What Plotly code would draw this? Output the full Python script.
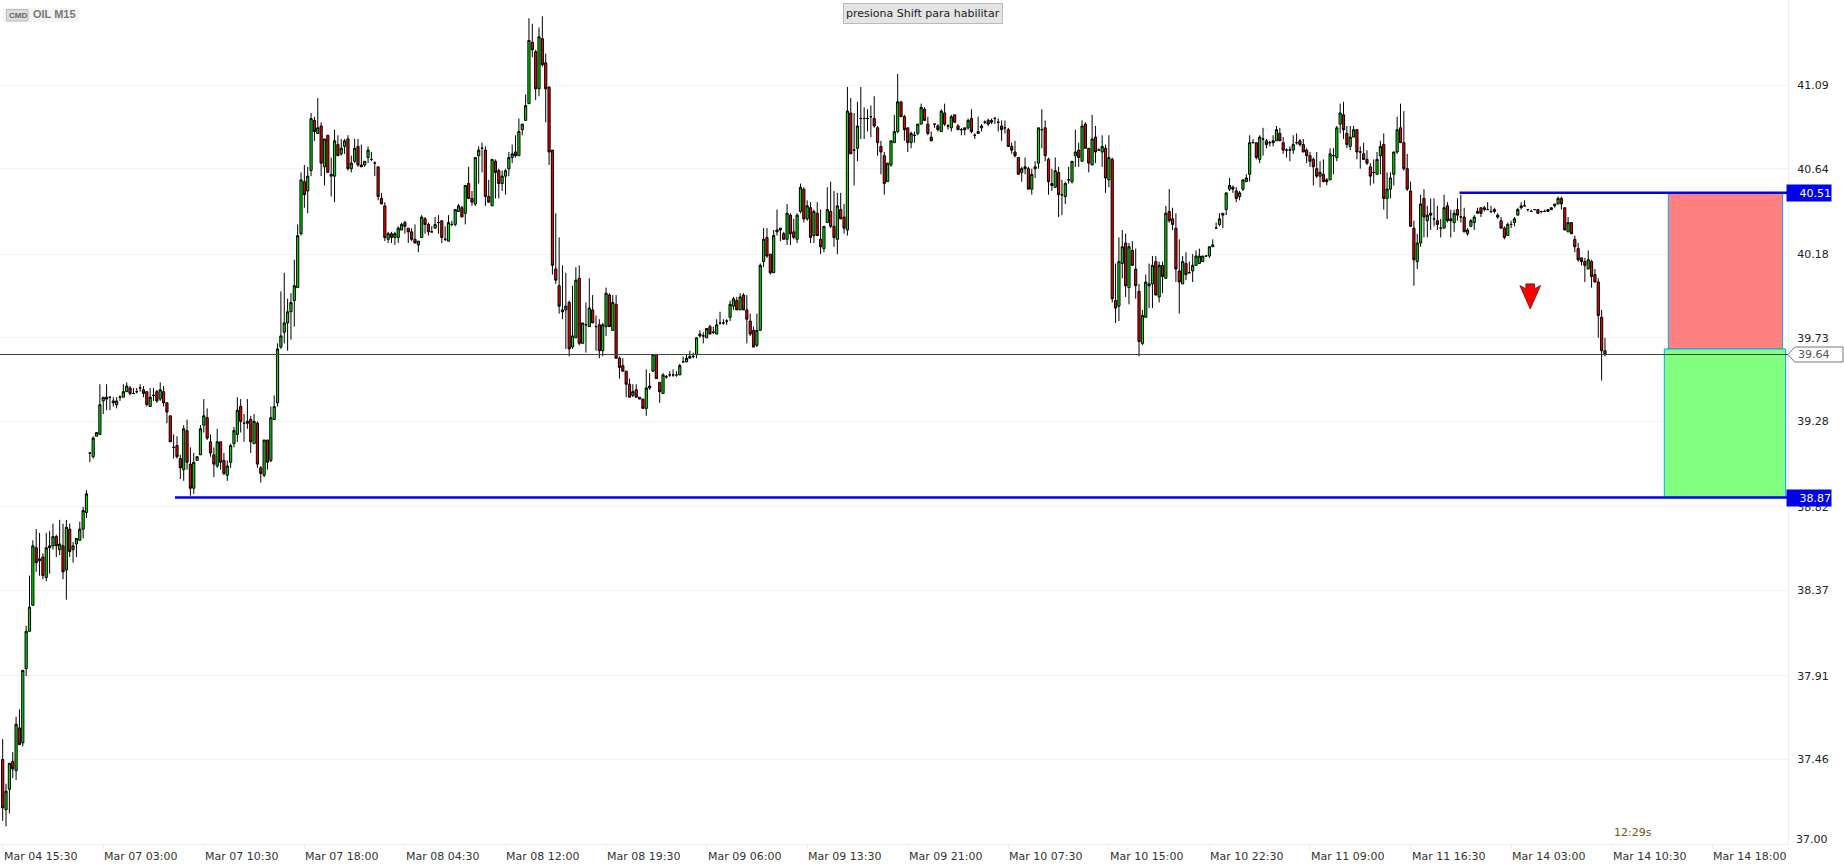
import plotly.graph_objects as go

TITLE = "OIL M15"
BADGE = "CMD"
NOTICE = "presiona Shift para habilitar"
TIMER = "12:29s"
CURRENT_PRICE = 39.64
UPPER_LEVEL = 40.51
LOWER_LEVEL = 38.87
MIDDLE_LEVEL = 39.67
ARROW_PRICE = 40.02
ARROW_INDEX = 455.7
UPPER_LINE_START = 434.6
LOWER_LINE_START = 51.4
RISK_BOX = (496.9, 531.0)
REWARD_BOX = (495.7, 531.9)

Y_TICKS = [37.00, 37.46, 37.91, 38.37, 38.82, 39.28, 39.73, 40.18, 40.64, 41.09]
X_LABELS = ["Mar 04 15:30", "Mar 07 03:00", "Mar 07 10:30", "Mar 07 18:00", "Mar 08 04:30", "Mar 08 12:00",
            "Mar 08 19:30", "Mar 09 06:00", "Mar 09 13:30", "Mar 09 21:00", "Mar 10 07:30", "Mar 10 15:00",
            "Mar 10 22:30", "Mar 11 09:00", "Mar 11 16:30", "Mar 14 03:00", "Mar 14 10:30", "Mar 14 18:00"]
CANDLES_PER_LABEL = 30

directions = ("rggrgrgggg" "rgrgggrgrg" "rggggggggg" "grgrggggrg" "ggrrggrgrr" "rgrrgrrggg" "grrrgrrggg" "grgrrgrrgr"
              "gggggggggg" "rggrgrgrgg" "rggrggrrgg" "ggrrrgrggg" "rrrrggrrgg" "grgggggrgr" "rgggrrgrrg" "gggrggggrr"
              "grrrrrrrgr" "ggrgggrgrg" "grgrrrrrgr" "rrgggrrggg" "gggggggggg" "grgggggggr" "grrrrgggrr" "ggrrgrrggr"
              "grgrrggrrg" "rrgrgggggg" "rrrrggggrr" "rggggrrrgr" "grggrrgggr" "ggggrgggrg" "rrrrggrggg" "grrrgrgggg"
              "grgrrgrggr" "grrggrgrrr" "ggggrgrgrr" "rrgrgggggg" "gggggggrrg" "ggggrggrgg" "grrggggrrr" "rrrgrrgggg"
              "rrggrgrrrg" "ggrggggrrr" "rrggrgrgrg" "grrgrgrggg" "grgggrrrrg" "ggggggggrg" "grgggrrgrr" "rrrgrrrrr")

body_top = [
37.46,37.29,37.44,37.45,37.65,37.63,37.94,38.15,38.28,38.61,
38.60,38.54,38.55,38.60,38.61,38.66,38.66,38.62,38.61,38.71,
38.70,38.61,38.65,38.70,38.80,38.89,39.11,39.19,39.22,39.37,
39.41,39.41,39.41,39.39,39.39,39.41,39.44,39.47,39.46,39.43,
39.44,39.46,39.45,39.44,39.41,39.42,39.44,39.45,39.44,39.38,
39.31,39.14,39.15,39.08,39.24,39.23,39.05,39.06,39.09,39.24,
39.31,39.30,39.17,39.10,39.17,39.17,39.07,39.04,39.15,39.23,
39.34,39.36,39.27,39.28,39.29,39.28,39.27,39.03,39.18,39.18,
39.30,39.36,39.67,39.74,39.81,39.87,39.92,40.01,40.28,40.58,
40.57,40.60,40.91,40.90,40.86,40.87,40.80,40.82,40.61,40.79,
40.77,40.75,40.79,40.80,40.67,40.75,40.76,40.66,40.68,40.74,
40.69,40.67,40.65,40.48,40.44,40.29,40.29,40.29,40.32,40.34,
40.35,40.32,40.30,40.26,40.25,40.38,40.37,40.34,40.30,40.34,
40.35,40.36,40.26,40.35,40.34,40.42,40.44,40.43,40.55,40.56,
40.48,40.70,40.74,40.75,40.74,40.49,40.69,40.68,40.63,40.60,
40.63,40.70,40.72,40.73,40.84,40.88,40.98,41.33,41.32,41.27,
41.35,41.34,41.21,41.08,40.74,40.10,40.01,39.88,39.90,39.92,
39.74,40.04,40.05,39.81,39.80,39.89,39.88,39.79,39.80,39.80,
39.97,39.96,39.92,39.91,39.62,39.58,39.55,39.48,39.44,39.45,
39.41,39.40,39.46,39.47,39.64,39.64,39.49,39.53,39.52,39.53,
39.53,39.53,39.58,39.60,39.62,39.63,39.63,39.73,39.75,39.74,
39.78,39.79,39.76,39.80,39.81,39.81,39.82,39.91,39.94,39.93,
39.95,39.96,39.88,39.82,39.77,39.77,40.12,40.26,40.27,40.18,
40.28,40.31,40.32,40.29,40.40,40.39,40.30,40.39,40.54,40.53,
40.44,40.43,40.41,40.40,40.26,40.33,40.42,40.41,40.33,40.44,
40.42,40.38,40.95,40.94,40.74,40.87,40.91,40.91,40.91,40.92,
40.91,40.86,40.76,40.71,40.67,40.79,40.84,41.00,41.00,40.92,
40.86,40.83,40.82,40.88,40.97,40.96,40.88,40.81,40.88,40.87,
40.95,40.94,40.87,40.92,40.93,40.87,40.85,40.86,40.90,40.91,
40.82,40.84,40.87,40.89,40.90,40.90,40.91,40.89,40.87,40.86,
40.85,40.76,40.73,40.70,40.64,40.65,40.64,40.61,40.65,40.86,
40.85,40.86,40.69,40.56,40.63,40.62,40.50,40.56,40.58,40.68,
40.73,40.74,40.87,40.88,40.75,40.80,40.81,40.74,40.76,40.75,
40.70,40.69,39.93,40.14,40.22,40.24,40.22,40.20,40.10,39.98,
39.85,40.03,40.02,40.12,40.14,40.12,40.12,40.40,40.41,40.37,
40.32,40.09,40.14,40.13,40.08,40.12,40.17,40.17,40.17,40.17,
40.22,40.23,40.32,40.37,40.40,40.51,40.55,40.54,40.52,40.51,
40.58,40.59,40.78,40.78,40.78,40.81,40.80,40.79,40.78,40.79,
40.85,40.83,40.78,40.74,40.74,40.77,40.78,40.79,40.77,40.74,
40.71,40.69,40.64,40.62,40.61,40.58,40.72,40.71,40.86,40.94,
40.93,40.83,40.81,40.85,40.85,40.73,40.72,40.69,40.65,40.62,
40.69,40.76,40.77,40.53,40.59,40.73,40.85,40.86,40.78,40.64,
40.52,40.32,40.24,40.45,40.48,40.39,40.40,40.37,40.36,40.32,
40.43,40.44,40.37,40.40,40.42,40.38,40.38,40.31,40.36,40.38,
40.41,40.43,40.43,40.42,40.41,40.42,40.39,40.36,40.32,40.34,
40.34,40.37,40.42,40.44,40.44,40.42,40.41,40.42,40.42,40.41,
40.41,40.42,40.43,40.45,40.48,40.48,40.43,40.35,40.35,40.26,
40.21,40.16,40.14,40.15,40.14,40.07,40.03,39.84,39.66]

body_bottom = [
37.20,37.19,37.30,37.41,37.40,37.54,37.55,37.95,38.15,38.29,
38.52,38.53,38.45,38.44,38.60,38.61,38.61,38.59,38.47,38.48,
38.58,38.59,38.62,38.64,38.70,38.79,39.11,39.09,39.20,39.21,
39.39,39.40,39.41,39.38,39.37,39.41,39.41,39.44,39.43,39.43,
39.44,39.46,39.43,39.37,39.36,39.42,39.39,39.40,39.38,39.33,
39.17,39.14,39.09,39.03,39.02,39.06,38.92,38.92,39.07,39.10,
39.26,39.19,39.11,39.05,39.04,39.06,39.00,38.99,39.06,39.16,
39.21,39.28,39.27,39.27,39.17,39.16,39.05,39.00,38.99,39.06,
39.07,39.29,39.38,39.68,39.76,39.81,39.87,39.93,40.00,40.29,
40.50,40.52,40.63,40.84,40.83,40.67,40.65,40.62,40.60,40.60,
40.71,40.72,40.76,40.64,40.64,40.68,40.66,40.65,40.66,40.70,
40.69,40.67,40.49,40.45,40.27,40.26,40.27,40.27,40.27,40.31,
40.33,40.30,40.26,40.24,40.23,40.27,40.34,40.30,40.30,40.32,
40.35,40.27,40.26,40.25,40.34,40.34,40.41,40.38,40.40,40.48,
40.46,40.45,40.71,40.75,40.49,40.46,40.44,40.62,40.56,40.56,
40.60,40.64,40.70,40.71,40.71,40.85,40.90,40.99,41.28,41.07,
41.07,41.20,41.07,40.73,40.12,40.04,39.90,39.87,39.88,39.67,
39.68,39.73,39.70,39.70,39.80,39.79,39.81,39.79,39.66,39.66,
39.79,39.79,39.77,39.62,39.57,39.55,39.48,39.41,39.42,39.41,
39.40,39.35,39.35,39.46,39.55,39.51,39.44,39.43,39.52,39.53,
39.53,39.53,39.53,39.60,39.60,39.62,39.63,39.64,39.74,39.74,
39.73,39.75,39.76,39.75,39.81,39.81,39.82,39.84,39.90,39.88,
39.88,39.88,39.83,39.75,39.68,39.69,39.77,40.14,40.17,40.08,
40.08,40.30,40.31,40.26,40.26,40.29,40.27,40.26,40.41,40.37,
40.37,40.27,40.28,40.28,40.22,40.21,40.35,40.33,40.27,40.26,
40.37,40.32,40.31,40.72,40.74,40.75,40.91,40.91,40.91,40.92,
40.87,40.78,40.73,40.56,40.57,40.66,40.78,40.84,40.92,40.85,
40.78,40.78,40.82,40.83,40.88,40.90,40.83,40.79,40.88,40.85,
40.84,40.88,40.87,40.86,40.89,40.85,40.85,40.85,40.86,40.84,
40.82,40.83,40.86,40.89,40.88,40.89,40.91,40.89,40.85,40.86,
40.76,40.74,40.71,40.61,40.62,40.64,40.53,40.53,40.64,40.67,
40.85,40.71,40.57,40.55,40.54,40.50,40.50,40.49,40.58,40.57,
40.71,40.70,40.68,40.75,40.67,40.66,40.73,40.74,40.73,40.59,
40.58,39.94,39.89,39.90,40.13,40.01,40.00,40.12,40.01,39.71,
39.70,39.84,40.01,40.02,39.96,39.95,40.06,40.05,40.36,40.34,
40.10,40.03,40.02,40.07,40.08,40.09,40.12,40.13,40.14,40.17,
40.17,40.22,40.32,40.34,40.39,40.42,40.53,40.53,40.48,40.49,
40.53,40.57,40.61,40.78,40.70,40.69,40.80,40.77,40.78,40.78,
40.79,40.79,40.74,40.74,40.74,40.74,40.78,40.77,40.73,40.71,
40.68,40.65,40.60,40.60,40.57,40.57,40.58,40.71,40.70,40.88,
40.85,40.77,40.76,40.81,40.73,40.73,40.69,40.67,40.60,40.62,
40.61,40.71,40.48,40.48,40.53,40.61,40.73,40.78,40.64,40.53,
40.33,40.15,40.14,40.24,40.38,40.36,40.39,40.37,40.34,40.32,
40.32,40.36,40.36,40.35,40.39,40.38,40.30,40.29,40.33,40.35,
40.40,40.40,40.42,40.42,40.41,40.41,40.38,40.32,40.27,40.28,
40.34,40.35,40.39,40.43,40.44,40.42,40.41,40.42,40.40,40.41,
40.41,40.41,40.42,40.44,40.45,40.45,40.31,40.30,40.29,40.22,
40.15,40.14,40.12,40.10,40.06,40.03,39.85,39.66,39.64]

wick_high = [
37.57,37.33,37.44,37.50,37.69,37.73,37.94,38.18,38.45,38.64,
38.70,38.68,38.57,38.68,38.69,38.73,38.67,38.75,38.73,38.75,
38.73,38.63,38.65,38.74,38.82,38.91,39.11,39.20,39.22,39.48,
39.41,39.48,39.41,39.41,39.41,39.42,39.48,39.49,39.47,39.46,
39.46,39.48,39.47,39.44,39.46,39.46,39.45,39.49,39.47,39.38,
39.31,39.21,39.20,39.10,39.26,39.29,39.14,39.11,39.09,39.26,
39.40,39.35,39.21,39.14,39.24,39.17,39.11,39.07,39.16,39.25,
39.41,39.40,39.32,39.40,39.31,39.32,39.28,39.04,39.18,39.18,
39.36,39.42,39.70,39.98,40.08,39.94,39.97,40.15,40.34,40.62,
40.66,40.65,40.94,40.92,41.02,40.89,40.80,40.82,40.70,40.85,
40.82,40.80,40.80,40.82,40.71,40.80,40.80,40.77,40.68,40.76,
40.73,40.68,40.65,40.51,40.46,40.30,40.30,40.30,40.33,40.35,
40.36,40.32,40.32,40.34,40.25,40.39,40.38,40.35,40.33,40.38,
40.39,40.36,40.33,40.39,40.36,40.42,40.45,40.44,40.55,40.65,
40.52,40.70,40.76,40.78,40.76,40.58,40.69,40.69,40.64,40.63,
40.64,40.73,40.77,40.82,40.91,40.88,41.04,41.45,41.42,41.28,
41.40,41.46,41.26,41.08,40.74,40.40,40.27,40.12,40.08,39.93,
40.01,40.11,40.12,39.81,39.92,40.05,39.96,39.85,39.83,39.81,
40.00,39.97,39.96,39.96,39.63,39.62,39.55,39.51,39.48,39.48,
39.41,39.40,39.56,39.54,39.64,39.64,39.49,39.54,39.53,39.55,
39.56,39.55,39.59,39.63,39.64,39.66,39.65,39.73,39.77,39.76,
39.78,39.80,39.79,39.83,39.87,39.83,39.83,39.93,39.95,39.95,
39.97,39.97,39.96,39.86,39.79,39.86,40.13,40.32,40.32,40.18,
40.31,40.42,40.32,40.30,40.45,40.40,40.37,40.40,40.56,40.54,
40.47,40.46,40.42,40.46,40.42,40.33,40.54,40.57,40.52,40.51,
40.51,40.45,41.08,41.02,40.94,41.00,41.08,40.97,40.96,40.98,
41.03,40.87,40.79,40.73,40.67,40.79,40.93,41.15,41.00,40.93,
40.86,40.84,40.84,40.88,40.99,40.97,40.92,40.84,40.88,40.88,
40.96,40.99,40.88,40.93,40.93,40.88,40.86,40.86,40.91,40.96,
40.83,40.92,40.88,40.90,40.91,40.91,40.92,40.91,40.90,40.90,
40.86,40.78,40.79,40.70,40.65,40.70,40.65,40.64,40.68,40.86,
40.96,40.90,40.70,40.64,40.70,40.65,40.58,40.57,40.65,40.68,
40.85,40.78,40.90,40.89,40.75,40.93,40.87,40.75,40.82,40.77,
40.82,40.70,40.13,40.27,40.31,40.29,40.24,40.25,40.21,40.02,
39.88,40.07,40.13,40.17,40.17,40.14,40.14,40.44,40.53,40.43,
40.40,40.26,40.17,40.19,40.14,40.18,40.20,40.21,40.17,40.17,
40.22,40.26,40.35,40.40,40.40,40.51,40.59,40.55,40.54,40.52,
40.58,40.61,40.82,40.80,40.78,40.82,40.86,40.80,40.79,40.82,
40.87,40.86,40.81,40.75,40.76,40.82,40.83,40.80,40.80,40.75,
40.73,40.70,40.73,40.68,40.69,40.59,40.75,40.75,40.87,40.99,
41.00,40.87,40.87,40.87,40.85,40.76,40.78,40.74,40.67,40.69,
40.73,40.79,40.83,40.62,40.62,40.73,40.92,40.99,40.95,40.72,
40.57,40.36,40.29,40.50,40.53,40.44,40.48,40.48,40.44,40.37,
40.50,40.46,40.42,40.42,40.48,40.50,40.43,40.32,40.37,40.39,
40.43,40.43,40.44,40.46,40.44,40.43,40.40,40.38,40.33,40.35,
40.36,40.38,40.43,40.46,40.47,40.42,40.42,40.42,40.42,40.41,
40.42,40.42,40.43,40.45,40.49,40.49,40.43,40.38,40.35,40.28,
40.24,40.16,40.16,40.20,40.15,40.10,40.05,39.88,39.73]

wick_low = [
37.13,37.10,37.17,37.36,37.35,37.54,37.53,37.91,38.15,38.29,
38.47,38.45,38.43,38.42,38.46,38.59,38.55,38.56,38.43,38.32,
38.55,38.52,38.55,38.64,38.65,38.76,39.06,39.08,39.20,39.21,
39.32,39.34,39.34,39.36,39.35,39.39,39.41,39.44,39.42,39.43,
39.43,39.44,39.41,39.36,39.36,39.39,39.38,39.39,39.36,39.27,
39.17,39.08,39.08,38.97,38.96,39.02,38.88,38.89,39.07,39.10,
39.22,39.18,39.09,38.98,39.03,39.02,38.99,38.96,39.03,39.14,
39.17,39.22,39.17,39.24,39.11,39.16,39.03,38.95,38.98,39.02,
39.06,39.29,39.36,39.67,39.70,39.66,39.72,39.79,40.00,40.28,
40.43,40.40,40.60,40.79,40.83,40.60,40.55,40.62,40.49,40.46,
40.71,40.71,40.72,40.63,40.62,40.67,40.65,40.65,40.65,40.67,
40.68,40.60,40.47,40.45,40.25,40.24,40.24,40.23,40.24,40.31,
40.29,40.24,40.25,40.24,40.19,40.27,40.29,40.28,40.30,40.32,
40.29,40.24,40.25,40.25,40.33,40.33,40.41,40.38,40.34,40.48,
40.44,40.44,40.56,40.62,40.44,40.46,40.44,40.48,40.48,40.52,
40.50,40.60,40.67,40.70,40.71,40.82,40.90,40.99,41.24,41.01,
41.03,41.19,40.89,40.66,40.07,40.02,39.86,39.83,39.67,39.63,
39.67,39.73,39.69,39.70,39.65,39.79,39.81,39.66,39.62,39.63,
39.74,39.79,39.77,39.62,39.51,39.55,39.41,39.41,39.41,39.41,
39.40,39.35,39.31,39.45,39.55,39.51,39.38,39.43,39.51,39.52,
39.52,39.52,39.53,39.60,39.60,39.62,39.62,39.62,39.73,39.70,
39.73,39.75,39.75,39.75,39.80,39.80,39.80,39.82,39.88,39.88,
39.88,39.88,39.70,39.74,39.68,39.68,39.77,40.11,40.16,40.07,
40.08,40.28,40.25,40.26,40.23,40.23,40.26,40.24,40.40,40.35,
40.36,40.24,40.24,40.28,40.18,40.19,40.35,40.32,40.22,40.18,
40.37,40.29,40.28,40.72,40.55,40.68,40.80,40.80,40.84,40.81,
40.86,40.71,40.61,40.50,40.57,40.65,40.78,40.83,40.92,40.79,
40.73,40.75,40.78,40.82,40.88,40.90,40.82,40.79,40.86,40.84,
40.84,40.87,40.85,40.84,40.89,40.85,40.82,40.82,40.85,40.83,
40.80,40.83,40.84,40.88,40.87,40.88,40.88,40.84,40.79,40.83,
40.76,40.72,40.70,40.61,40.57,40.61,40.53,40.50,40.59,40.64,
40.75,40.68,40.50,40.52,40.54,40.38,40.39,40.45,40.56,40.56,
40.65,40.65,40.68,40.75,40.62,40.66,40.67,40.74,40.65,40.51,
40.54,39.92,39.81,39.82,40.05,39.95,39.91,40.12,39.94,39.63,
39.69,39.84,39.89,39.89,39.96,39.92,39.97,40.05,40.35,40.31,
40.03,39.86,40.02,40.04,40.08,40.03,40.12,40.13,40.14,40.17,
40.16,40.22,40.32,40.33,40.32,40.39,40.52,40.51,40.46,40.47,
40.52,40.57,40.57,40.78,40.69,40.67,40.71,40.75,40.76,40.76,
40.79,40.79,40.72,40.70,40.68,40.72,40.77,40.76,40.73,40.67,
40.65,40.55,40.59,40.54,40.57,40.55,40.58,40.61,40.68,40.83,
40.80,40.75,40.74,40.81,40.69,40.64,40.69,40.66,40.55,40.56,
40.61,40.61,40.42,40.37,40.48,40.55,40.72,40.78,40.63,40.52,
40.33,40.01,40.10,40.22,40.27,40.27,40.31,40.33,40.31,40.27,
40.32,40.35,40.27,40.30,40.36,40.35,40.30,40.28,40.33,40.31,
40.40,40.38,40.41,40.42,40.40,40.40,40.37,40.32,40.26,40.28,
40.32,40.33,40.39,40.42,40.44,40.41,40.41,40.42,40.40,40.40,
40.41,40.41,40.42,40.43,40.45,40.42,40.31,40.30,40.29,40.19,
40.14,40.12,40.03,40.10,40.00,40.03,39.73,39.50,39.63]

n = len(directions)
assert all(len(s) == n for s in (body_top, body_bottom, wick_high, wick_low))
index = list(range(n))
opens = [b if d == "g" else t for t, b, d in zip(body_top, body_bottom, directions)]
closes = [t if d == "g" else b for t, b, d in zip(body_top, body_bottom, directions)]

FIG_W, FIG_H = 1844, 864
PLOT_W, PLOT_H = 1788, 844
X_RANGE = [-0.8, 532.6]
Y_RANGE = [37.0054, 41.548]
def px(x): return x / PLOT_W
def py(y): return (PLOT_H - y) / PLOT_H

FONT = "DejaVu Sans"
fig = go.Figure()
fig.add_trace(go.Candlestick(
    x=index, open=opens, high=wick_high, low=wick_low, close=closes,
    increasing=dict(line=dict(color="#000000", width=1), fillcolor="#00e000"),
    decreasing=dict(line=dict(color="#000000", width=1), fillcolor="#f00000"),
    whiskerwidth=0, hoverinfo="skip", showlegend=False))

shapes = [
    dict(type="rect", xref="x", yref="y", x0=RISK_BOX[0], x1=RISK_BOX[1], y0=MIDDLE_LEVEL, y1=UPPER_LEVEL,
         fillcolor="#ff8080", line=dict(color="#109fef", width=1), layer="above"),
    dict(type="rect", xref="x", yref="y", x0=REWARD_BOX[0], x1=REWARD_BOX[1], y0=LOWER_LEVEL, y1=MIDDLE_LEVEL,
         fillcolor="#80ff80", line=dict(color="#109fef", width=1), layer="above"),
    dict(type="line", xref="paper", yref="y", x0=0, x1=1, y0=CURRENT_PRICE, y1=CURRENT_PRICE,
         line=dict(color="#444444", width=1), layer="above"),
    dict(type="line", xref="x", yref="y", x0=UPPER_LINE_START, x1=X_RANGE[1], y0=UPPER_LEVEL, y1=UPPER_LEVEL,
         line=dict(color="#0000ee", width=2.5), layer="above"),
    dict(type="line", xref="x", yref="y", x0=LOWER_LINE_START, x1=X_RANGE[1], y0=LOWER_LEVEL, y1=LOWER_LEVEL,
         line=dict(color="#0000ee", width=2.5), layer="above"),
    dict(type="path", xref="x", yref="y", xsizemode="pixel", ysizemode="pixel", xanchor=ARROW_INDEX, yanchor=ARROW_PRICE,
         path="M-4.3,0 L4.3,0 L4.3,-5 L10.3,-1.7 L0,-25 L-10.3,-1.7 L-4.3,-5 Z",
         fillcolor="#ff0000", line=dict(color="#7a2020", width=1), layer="above"),
    dict(type="path", xref="paper", yref="y", xsizemode="pixel", ysizemode="pixel", xanchor=1, yanchor=CURRENT_PRICE,
         path="M0,0 L6.7,7.5 L55,7.5 L55,-7.5 L6.7,-7.5 Z",
         fillcolor="#ffffff", line=dict(color="#777777", width=1), layer="above"),
    dict(type="rect", xref="paper", yref="paper", x0=px(3), x1=px(78), y0=py(22), y1=py(8),
         fillcolor="#f5f5f5", line=dict(width=0), layer="above"),
    dict(type="rect", xref="paper", yref="paper", x0=px(6.5), x1=px(28), y0=py(21), y1=py(9.5),
         fillcolor="#dddddd", line=dict(color="#bbbbbb", width=1), layer="above"),
]

def text_ann(text, x, y, **kw):
    base = dict(text=text, x=x, y=y, xref="paper", yref="paper", showarrow=False, xanchor="left", yanchor="middle",
                font=dict(family=FONT, size=11, color="#222222"))
    base.update(kw)
    return base

anns = []
for i, label in enumerate(X_LABELS):
    anns.append(text_ann(label, i * CANDLES_PER_LABEL, 0, xref="x", yshift=-12, xshift=-1, font=dict(family=FONT, size=11, color="#333333")))
anns += [
    text_ann("37.00", 1, py(839), xshift=6),
    text_ann("<b>%s</b>" % BADGE, px(7), py(15.5), font=dict(family="Liberation Sans", size=8, color="#666666")),
    text_ann("<b>%s</b>" % TITLE, px(31), py(14), font=dict(family="Liberation Sans", size=11, color="#777777")),
    text_ann(NOTICE, px(842.5), py(13.5), bgcolor="#e4e4e4", bordercolor="#bbbbbb", borderwidth=1, borderpad=2, width=154, height=15, align="left"),
    text_ann(TIMER, px(1612), py(832.7), font=dict(family=FONT, size=11, color="#6b5a10")),
    text_ann("%.2f" % UPPER_LEVEL, px(1786), UPPER_LEVEL, yref="y", bgcolor="#0000ee", width=44, height=16, borderpad=0, align="right",
             font=dict(family=FONT, size=11, color="#ffffff")),
    text_ann("%.2f" % LOWER_LEVEL, px(1786), LOWER_LEVEL, yref="y", bgcolor="#0000ee", width=44, height=16, borderpad=0, align="right",
             font=dict(family=FONT, size=11, color="#ffffff")),
    text_ann("%.2f" % CURRENT_PRICE, 1, CURRENT_PRICE, yref="y", xshift=8, font=dict(family=FONT, size=11, color="#555555")),
]

fig.update_layout(
    width=FIG_W, height=FIG_H, margin=dict(l=0, r=FIG_W - PLOT_W, t=0, b=FIG_H - PLOT_H, pad=0),
    paper_bgcolor="#ffffff", plot_bgcolor="#ffffff", showlegend=False, boxgap=0.35, boxgroupgap=0,
    hovermode=False, shapes=shapes, annotations=anns,
    xaxis=dict(range=X_RANGE, rangeslider=dict(visible=False), showgrid=False, zeroline=False,
               tickmode="array", tickvals=[i * CANDLES_PER_LABEL for i in range(len(X_LABELS))],
               ticktext=[""] * len(X_LABELS), ticks="outside", ticklen=5, tickcolor="#eeeeee",
               showline=True, linecolor="#eeeeee", linewidth=1),
    yaxis=dict(range=Y_RANGE, side="right", showgrid=True, gridcolor="#f3f3f3", gridwidth=1, zeroline=False,
               tickmode="array", tickvals=Y_TICKS, ticktext=["%.2f" % v for v in Y_TICKS],
               ticks="", ticklabelstandoff=6, tickfont=dict(family=FONT, size=11, color="#222222"),
               showline=True, linecolor="#eeeeee", linewidth=1),
)
fig.write_html("out.html", config={"displayModeBar": False},
               post_script="document.body.style.margin='0';document.body.style.overflow='hidden';")
